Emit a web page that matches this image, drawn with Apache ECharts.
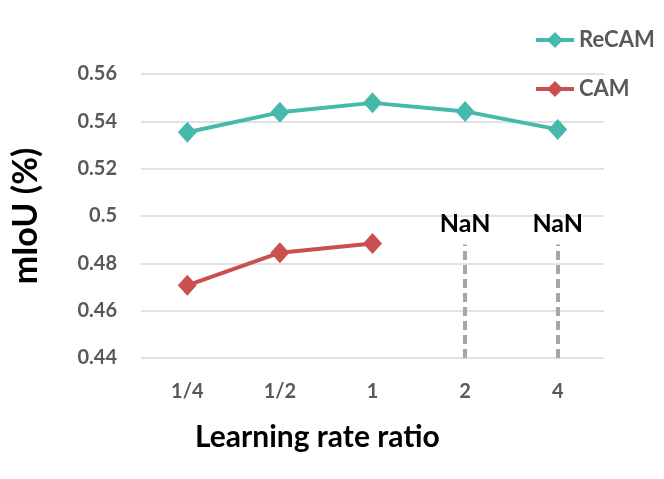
<!DOCTYPE html>
<html>
<head>
<meta charset="utf-8">
<script src="https://cdn.jsdelivr.net/npm/echarts@6/dist/echarts.min.js"></script>
<style>
  html, body { margin: 0; padding: 0; background: #fff; }
  #main { width: 664px; height: 479px; }
</style>
</head>
<body>
<div id="main"></div>
<script>
// learning rate ratios on the x axis
var ratios = ['1/4', '1/2', '1', '2', '4']
// mIoU
var recam = [0.5354, 0.5438, 0.5478, 0.5442, 0.5366]
var cam = [0.4707, 0.4845, 0.4884, null, null]
// CAM diverged at these ratios, drawn as dashed stubs
var nanRatios = ['2', '4']
var nanTop = 0.488

var tealColor = '#45b9ab'
var redColor = '#c9504f'
var fontName = 'Lato, "Liberation Sans", sans-serif'

var chart = echarts.init(document.getElementById('main'))

var nanLines = nanRatios.map(function (r) {
  return [
    { coord: [r, 0.44] },
    { coord: [r, nanTop], label: { show: true, formatter: 'NaN' } }
  ]
})

var legendText = { fontFamily: fontName, fontWeight: 'bold', fontSize: 22, color: '#595959' }

var option = {
  animation: false,
  grid: { left: 141, right: 60, top: 74, bottom: 121 },
  legend: [
    {
      data: ['ReCAM'],
      left: 529, top: 24,
      itemWidth: 38, itemHeight: 20, itemGap: 4,
      lineStyle: { width: 4 },
      textStyle: legendText
    },
    {
      data: ['CAM'],
      left: 529, top: 73,
      itemWidth: 38, itemHeight: 20, itemGap: 4,
      lineStyle: { width: 4 },
      textStyle: legendText
    }
  ],
  xAxis: {
    type: 'category',
    data: ratios,
    boundaryGap: true,
    axisLine: { show: false },
    axisTick: { show: false },
    axisLabel: {
      margin: 24,
      fontFamily: fontName, fontWeight: 'bold', fontSize: 20, color: '#595959'
    }
  },
  yAxis: {
    type: 'value',
    min: 0.44, max: 0.56, interval: 0.02,
    name: 'mIoU (%)',
    nameLocation: 'middle',
    nameGap: 98,
    nameTextStyle: { fontFamily: fontName, fontWeight: 'bold', fontSize: 34, color: '#000' },
    axisLine: { show: false },
    axisTick: { show: false },
    splitLine: { lineStyle: { color: '#d9d9d9', width: 1.5 } },
    axisLabel: {
      margin: 24,
      fontFamily: fontName, fontWeight: 'bold', fontSize: 20, color: '#595959',
      formatter: function (v) { return String(+v.toFixed(2)) }
    }
  },
  graphic: [
    {
      type: 'text',
      left: 195, top: 422,
      style: {
        text: 'Learning rate ratio',
        font: 'bold 30px ' + fontName,
        fill: '#000'
      }
    }
  ],
  series: [
    {
      name: 'ReCAM',
      type: 'line',
      data: recam,
      symbol: 'diamond',
      symbolSize: [19, 21],
      lineStyle: { color: tealColor, width: 4 },
      itemStyle: { color: tealColor }
    },
    {
      name: 'CAM',
      type: 'line',
      data: cam,
      symbol: 'diamond',
      symbolSize: [19, 21],
      lineStyle: { color: redColor, width: 4 },
      itemStyle: { color: redColor },
      markLine: {
        silent: true,
        symbol: ['none', 'none'],
        lineStyle: { color: '#a6a6a6', width: 4, type: [9, 5] },
        label: {
          position: 'end',
          distance: 8,
          fontFamily: fontName, fontWeight: 'bold', fontSize: 25, color: '#000'
        },
        data: nanLines
      }
    }
  ]
}

chart.setOption(option)
</script>
</body>
</html>
